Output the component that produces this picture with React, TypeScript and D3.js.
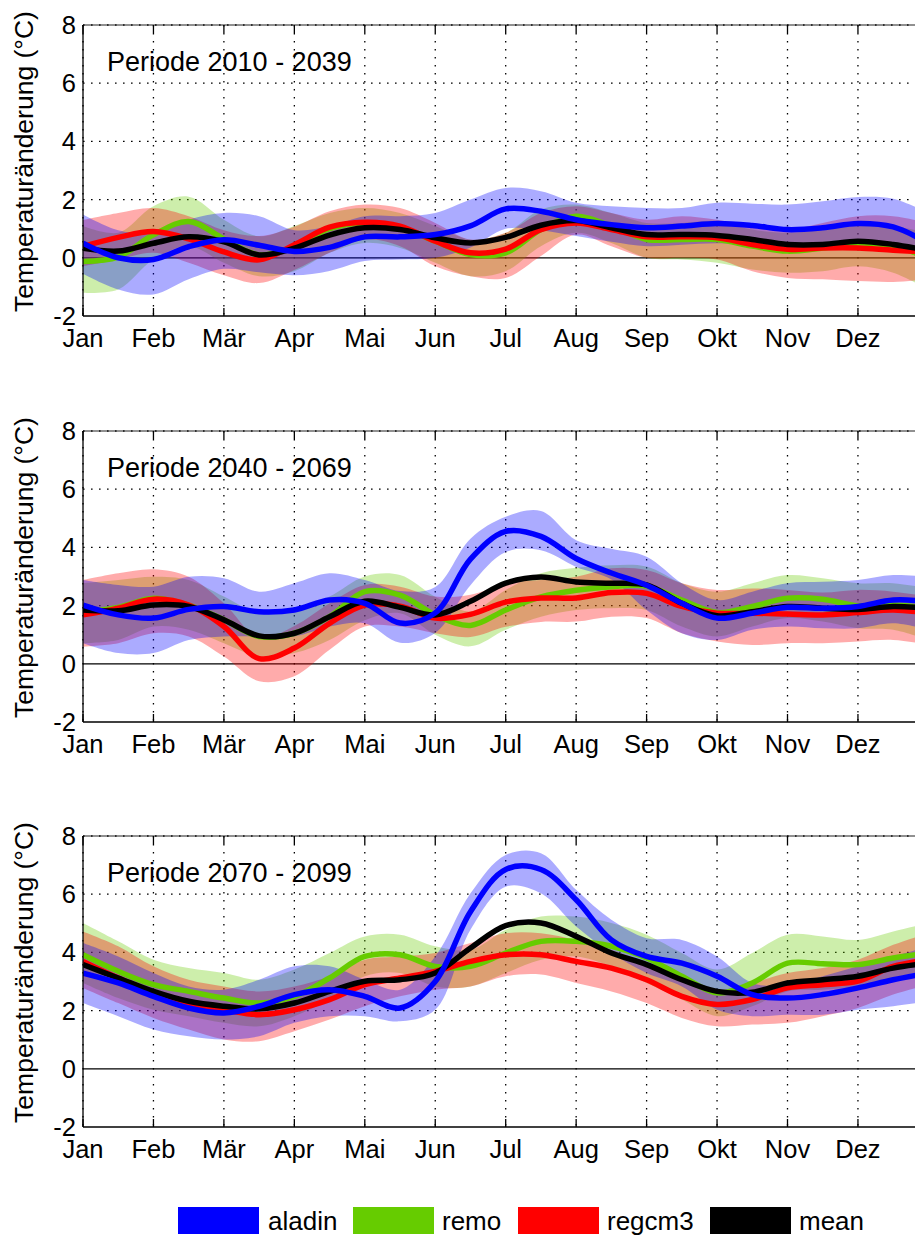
import React from 'react';
import * as d3 from 'd3';

const MONTHS = ["Jan", "Feb", "Mär", "Apr", "Mai", "Jun", "Jul", "Aug", "Sep", "Okt", "Nov", "Dez"];
const STEPS = [0, 0.5, 1, 1.5, 2, 2.5, 3, 3.5, 4, 4.5, 5, 5.5, 6, 6.5, 7, 7.5, 8, 8.5, 9, 9.5, 10, 10.5, 11, 11.5, 12];
const Y_TICKS = [-2, 0, 2, 4, 6, 8];
const PERIODS = ["Periode 2010 - 2039", "Periode 2040 - 2069", "Periode 2070 - 2099"];
const SERIES_NAMES = ["aladin", "remo", "regcm3", "mean"];
const SERIES_COLORS = ["#0000ff", "#66cc00", "#ff0000", "#000000"];

// ---- Periode 2010 - 2039 ----
const P1_ALADIN = [0.5, 0.0, -0.06, 0.38, 0.62, 0.43, 0.22, 0.36, 0.72, 0.72, 0.8, 1.1, 1.68, 1.6, 1.31, 1.14, 1.03, 1.09, 1.18, 1.11, 0.97, 1.03, 1.18, 1.06, 0.5];
const P1_REMO = [-0.13, 0.03, 0.79, 1.25, 0.65, 0.1, 0.39, 1.0, 1.2, 1.03, 0.57, 0.11, 0.17, 0.97, 1.43, 1.09, 0.63, 0.63, 0.63, 0.4, 0.23, 0.34, 0.51, 0.4, 0.0];
const P1_REGCM = [0.39, 0.7, 0.9, 0.65, 0.2, -0.07, 0.45, 1.05, 1.22, 1.09, 0.57, 0.17, 0.3, 0.97, 1.2, 0.97, 0.72, 0.72, 0.69, 0.46, 0.29, 0.34, 0.34, 0.26, 0.2];
const P1_MEAN = [0.33, 0.23, 0.5, 0.72, 0.55, 0.1, 0.33, 0.78, 1.03, 0.97, 0.69, 0.51, 0.7, 1.12, 1.28, 1.03, 0.8, 0.8, 0.77, 0.63, 0.46, 0.46, 0.57, 0.46, 0.25];
const P1_ALADIN_HI = [1.49, 0.95, 0.86, 1.31, 1.54, 1.43, 0.95, 1.09, 1.43, 1.43, 1.54, 2.0, 2.4, 2.29, 1.89, 1.77, 1.71, 1.71, 1.89, 1.86, 1.83, 1.94, 2.09, 2.03, 1.54];
const P1_ALADIN_LO = [-0.55, -1.09, -1.26, -0.74, -0.38, -0.5, -0.6, -0.45, -0.11, -0.06, 0.0, 0.35, 1.0, 0.95, 0.75, 0.55, 0.4, 0.45, 0.5, 0.45, 0.3, 0.35, 0.45, 0.4, 0.1];
const P1_REMO_HI = [1.09, 0.86, 1.77, 2.1, 1.31, 0.74, 1.09, 1.54, 1.71, 1.54, 1.09, 0.63, 0.86, 1.66, 1.83, 1.54, 1.2, 1.2, 1.26, 0.97, 0.86, 0.97, 1.2, 1.09, 0.86];
const P1_REMO_LO = [-1.2, -1.09, -0.06, 0.4, -0.17, -0.63, -0.46, 0.17, 0.51, 0.34, -0.17, -0.63, -0.46, 0.4, 0.86, 0.51, 0.0, -0.06, -0.17, -0.4, -0.51, -0.46, -0.29, -0.51, -1.09];
const P1_REGCM_HI = [1.3, 1.54, 1.71, 1.43, 0.95, 0.75, 1.07, 1.6, 1.83, 1.71, 1.2, 0.63, 0.86, 1.54, 1.77, 1.54, 1.31, 1.43, 1.31, 1.09, 0.97, 1.2, 1.43, 1.43, 1.2];
const P1_REGCM_LO = [-0.29, -0.06, 0.17, -0.17, -0.6, -0.87, -0.42, 0.17, 0.63, 0.4, -0.29, -0.63, -0.69, 0.06, 0.8, 0.4, 0.0, 0.0, -0.06, -0.46, -0.69, -0.74, -0.8, -0.83, -0.74];

// ---- Periode 2040 - 2069 ----
const P2_ALADIN = [2.02, 1.68, 1.57, 1.87, 1.97, 1.79, 1.85, 2.19, 2.08, 1.4, 1.75, 3.6, 4.55, 4.38, 3.62, 3.12, 2.7, 2.08, 1.57, 1.74, 1.94, 1.91, 1.97, 2.19, 2.14];
const P2_REMO = [1.79, 1.94, 2.25, 2.02, 1.51, 0.94, 1.05, 1.62, 2.48, 2.36, 1.68, 1.32, 1.85, 2.3, 2.53, 2.65, 2.67, 2.19, 1.76, 1.97, 2.25, 2.22, 1.99, 2.02, 1.91];
const P2_REGCM = [1.68, 1.91, 2.22, 2.02, 1.28, 0.18, 0.54, 1.39, 2.02, 1.98, 1.57, 1.7, 2.12, 2.26, 2.26, 2.45, 2.42, 1.97, 1.74, 1.74, 1.71, 1.68, 1.76, 1.85, 1.74];
const P2_MEAN = [1.85, 1.82, 2.02, 1.97, 1.51, 0.96, 1.05, 1.62, 2.15, 1.94, 1.68, 2.15, 2.77, 2.98, 2.81, 2.77, 2.71, 2.08, 1.65, 1.79, 1.97, 1.91, 1.87, 1.97, 1.91];
const P2_ALADIN_HI = [2.88, 2.71, 2.65, 2.99, 2.94, 2.48, 2.77, 3.11, 2.88, 2.5, 2.64, 4.3, 5.05, 5.25, 4.25, 3.95, 3.68, 2.77, 2.19, 2.48, 2.77, 2.82, 2.88, 3.05, 2.99];
const P2_ALADIN_LO = [0.71, 0.37, 0.37, 0.82, 0.94, 0.94, 0.94, 1.28, 1.39, 0.72, 1.06, 2.7, 3.84, 3.9, 3.33, 2.9, 1.85, 1.05, 0.82, 1.17, 1.28, 1.22, 1.22, 1.39, 1.17];
const P2_REMO_HI = [2.77, 2.88, 2.99, 2.88, 2.31, 1.74, 1.85, 2.31, 3.0, 3.05, 2.3, 1.8, 2.54, 3.11, 3.3, 3.39, 3.34, 2.77, 2.48, 2.77, 3.05, 2.94, 2.77, 2.77, 2.59];
const P2_REMO_LO = [0.71, 0.82, 1.28, 1.17, 0.71, 0.25, 0.37, 0.82, 1.5, 1.74, 1.0, 0.6, 1.17, 1.62, 1.85, 1.91, 1.85, 1.28, 0.94, 1.28, 1.57, 1.45, 1.22, 1.17, 0.82];
const P2_REGCM_HI = [2.88, 3.11, 3.25, 2.99, 2.08, 0.9, 1.3, 2.08, 2.71, 2.65, 2.31, 2.37, 2.77, 2.88, 2.99, 3.28, 3.22, 2.77, 2.54, 2.59, 2.54, 2.45, 2.54, 2.48, 2.31];
const P2_REGCM_LO = [0.59, 0.71, 1.05, 0.94, 0.25, -0.6, -0.43, 0.48, 1.28, 1.28, 1.05, 0.92, 1.27, 1.44, 1.45, 1.62, 1.57, 1.05, 0.77, 0.65, 0.71, 0.71, 0.77, 0.82, 0.65];

// ---- Periode 2070 - 2099 ----
const P3_ALADIN = [3.29, 2.95, 2.49, 2.09, 1.92, 2.15, 2.55, 2.72, 2.49, 2.09, 3.0, 5.4, 6.85, 6.85, 5.81, 4.43, 3.86, 3.63, 3.18, 2.55, 2.43, 2.55, 2.78, 3.06, 3.29];
const P3_REMO = [3.92, 3.35, 2.89, 2.66, 2.43, 2.26, 2.49, 3.12, 3.86, 3.92, 3.52, 3.52, 3.98, 4.38, 4.38, 4.21, 3.81, 3.18, 2.61, 2.95, 3.63, 3.61, 3.58, 3.81, 3.98];
const P3_REGCM = [3.69, 3.12, 2.61, 2.21, 2.03, 1.86, 2.03, 2.38, 2.89, 3.12, 3.35, 3.69, 3.92, 3.92, 3.69, 3.46, 3.06, 2.49, 2.21, 2.38, 2.78, 2.89, 3.01, 3.52, 3.75];
const P3_MEAN = [3.58, 3.12, 2.66, 2.32, 2.15, 2.06, 2.26, 2.66, 3.01, 3.06, 3.29, 4.15, 4.92, 5.01, 4.55, 3.98, 3.58, 3.06, 2.66, 2.63, 2.95, 3.06, 3.18, 3.46, 3.63];
const P3_ALADIN_HI = [4.32, 3.86, 3.29, 2.83, 2.72, 3.06, 3.52, 3.52, 3.06, 2.72, 3.86, 6.03, 7.35, 7.41, 6.15, 5.12, 4.49, 4.43, 3.86, 2.95, 2.89, 3.18, 3.52, 3.86, 4.21];
const P3_ALADIN_LO = [2.26, 1.81, 1.35, 1.12, 1.01, 1.12, 1.58, 1.81, 1.81, 1.63, 2.03, 4.78, 6.26, 6.03, 4.89, 3.98, 3.29, 2.83, 2.03, 1.81, 1.86, 1.86, 2.03, 2.15, 2.32];
const P3_REMO_HI = [5.01, 4.38, 3.75, 3.46, 3.29, 3.06, 3.41, 3.98, 4.55, 4.61, 4.21, 4.09, 4.78, 5.23, 5.23, 5.01, 4.61, 3.98, 3.41, 3.98, 4.61, 4.55, 4.43, 4.72, 5.01];
const P3_REMO_LO = [2.95, 2.43, 2.03, 1.81, 1.58, 1.46, 1.81, 2.38, 3.18, 3.29, 2.83, 2.83, 3.29, 3.75, 3.86, 3.52, 2.95, 2.38, 1.81, 2.15, 2.66, 2.72, 2.83, 3.12, 3.41];
const P3_REGCM_HI = [4.72, 4.21, 3.52, 3.06, 2.83, 2.66, 2.83, 3.18, 3.75, 3.86, 3.98, 4.32, 4.66, 4.66, 4.43, 4.09, 3.63, 3.06, 2.72, 2.95, 3.29, 3.46, 3.75, 4.26, 4.66];
const P3_REGCM_LO = [2.78, 2.26, 1.75, 1.35, 1.01, 0.95, 1.29, 1.69, 2.15, 2.49, 2.72, 2.83, 3.18, 3.24, 2.95, 2.66, 2.26, 1.75, 1.46, 1.52, 1.58, 1.81, 2.09, 2.55, 2.89];

const PANEL_LINES = [
  [P1_ALADIN, P1_REMO, P1_REGCM, P1_MEAN],
  [P2_ALADIN, P2_REMO, P2_REGCM, P2_MEAN],
  [P3_ALADIN, P3_REMO, P3_REGCM, P3_MEAN],
];
const PANEL_BANDS = [
  [[P1_ALADIN_LO, P1_ALADIN_HI], [P1_REMO_LO, P1_REMO_HI], [P1_REGCM_LO, P1_REGCM_HI]],
  [[P2_ALADIN_LO, P2_ALADIN_HI], [P2_REMO_LO, P2_REMO_HI], [P2_REGCM_LO, P2_REGCM_HI]],
  [[P3_ALADIN_LO, P3_ALADIN_HI], [P3_REMO_LO, P3_REMO_HI], [P3_REGCM_LO, P3_REGCM_HI]],
];

const FONT = "'Liberation Sans', Arial, Helvetica, sans-serif";
const BAND_RGBA = ["rgba(0,0,255,0.33)", "rgba(102,204,0,0.33)", "rgba(255,0,0,0.33)"];

const W = 915;
const H = 1235;
const PLOT_LEFT = 83;
const PLOT_RIGHT = 83 + 12 * 70.45;
const PANEL_TOPS = [25, 431, 836];
const PANEL_H = 291;

function Panel({ idx }: { idx: number }) {
  const top = PANEL_TOPS[idx];
  const bottom = top + PANEL_H;
  const x = d3.scaleLinear().domain([0, 12]).range([PLOT_LEFT, PLOT_RIGHT]);
  const y = d3.scaleLinear().domain([-2, 8]).range([bottom, top]);
  const curve = d3.curveCatmullRom.alpha(0.5);
  const line = d3
    .line<number>()
    .x((_, i) => x(STEPS[i]))
    .y((d) => y(d))
    .curve(curve);
  const area = (lo: number[], hi: number[]) =>
    d3
      .area<number>()
      .x((_, i) => x(STEPS[i]))
      .y0((_, i) => y(lo[i]))
      .y1((_, i) => y(hi[i]))
      .curve(curve)(lo) || '';
  const clipId = `clip${idx}`;
  const lines = PANEL_LINES[idx];
  const bands = PANEL_BANDS[idx];
  const bandOrder = [1, 2, 0];
  const lineOrder = [1, 2, 3, 0];
  const monthIdx = MONTHS.map((_, i) => i);
  return (
    <g>
      <defs>
        <clipPath id={clipId}>
          <rect x={PLOT_LEFT} y={top} width={PLOT_RIGHT - PLOT_LEFT} height={PANEL_H} />
        </clipPath>
      </defs>
      {Y_TICKS.filter((t) => t !== 0 && t !== -2).map((t) => (
        <line key={'gy' + t} x1={PLOT_LEFT} x2={W} y1={y(t)} y2={y(t)} stroke="#000" strokeWidth={1.3} strokeDasharray="1.6,6.4" />
      ))}
      {monthIdx.map((m) => (
        <line key={'gx' + m} x1={x(m)} x2={x(m)} y1={top} y2={bottom} stroke="#000" strokeWidth={1.3} strokeDasharray="1.6,6.4" />
      ))}
      <line x1={PLOT_LEFT} x2={W} y1={y(0)} y2={y(0)} stroke="#000" strokeWidth={1.2} />
      <g clipPath={`url(#${clipId})`}>
        {bandOrder.map((b) => (
          <path key={'b' + b} d={area(bands[b][0], bands[b][1])} fill={BAND_RGBA[b]} stroke="none" />
        ))}
        {lineOrder.map((s) => (
          <path key={'l' + s} d={line(lines[s]) || ''} fill="none" stroke={SERIES_COLORS[s]} strokeWidth={5.5} />
        ))}
      </g>
      <line x1={PLOT_LEFT} x2={W} y1={top} y2={top} stroke="#222" strokeWidth={1} />
      <line x1={PLOT_LEFT} x2={W} y1={bottom} y2={bottom} stroke="#000" strokeWidth={1.3} />
      <line x1={PLOT_LEFT} x2={PLOT_LEFT} y1={top} y2={bottom} stroke="#000" strokeWidth={1.3} />
      {monthIdx.map((m) => (
        <g key={'t' + m}>
          <line x1={x(m)} x2={x(m)} y1={bottom} y2={bottom - 8} stroke="#000" strokeWidth={1.3} />
          <line x1={x(m)} x2={x(m)} y1={top} y2={top + 8} stroke="#000" strokeWidth={1.3} />
          <text x={x(m)} y={bottom + 31} textAnchor="middle" fontFamily={FONT} fontSize={25.5} fill="#000">
            {MONTHS[m]}
          </text>
        </g>
      ))}
      {Y_TICKS.map((t) => (
        <text key={'yt' + t} x={76} y={y(t) + 9} textAnchor="end" fontFamily={FONT} fontSize={25.5} fill="#000">
          {t}
        </text>
      ))}
      <text
        transform={`translate(33, ${(top + bottom) / 2 - 9}) rotate(-90)`}
        textAnchor="middle"
        fontFamily={FONT}
        fontSize={26.5}
        fill="#000"
      >
        Temperaturänderung (°C)
      </text>
      <text x={107} y={top + 46} fontFamily={FONT} fontSize={27} fill="#000">
        {PERIODS[idx]}
      </text>
    </g>
  );
}

export default function App() {
  const legendRectX = [178, 353, 518, 710];
  const legendTextX = [268, 442, 607, 799];
  return (
    <svg width={W} height={H} viewBox={`0 0 ${W} ${H}`} style={{ position: 'absolute', left: 0, top: 0, background: '#fff' }}>
      <rect x={0} y={0} width={W} height={H} fill="#fff" />
      {[0, 1, 2].map((i) => (
        <Panel key={i} idx={i} />
      ))}
      {SERIES_NAMES.map((n, i) => (
        <g key={n}>
          <rect x={legendRectX[i]} y={1207} width={81} height={27} fill={SERIES_COLORS[i]} />
          <text x={legendTextX[i]} y={1230} fontFamily={FONT} fontSize={26} fill="#000">
            {n}
          </text>
        </g>
      ))}
    </svg>
  );
}
